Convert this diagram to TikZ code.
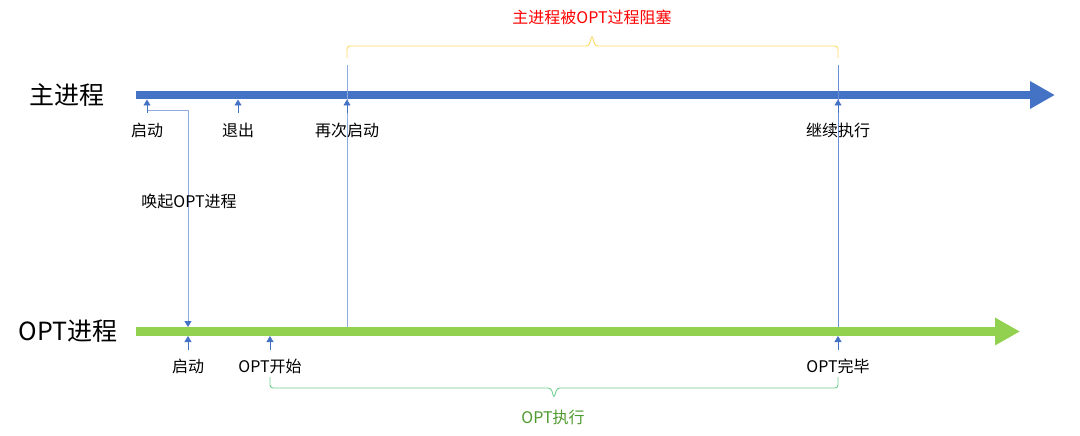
\documentclass[tikz,border=0pt]{standalone}
\usepackage{fontspec}
\setmainfont{Noto Sans CJK SC}
\usetikzlibrary{arrows.meta}
\definecolor{mblue}{HTML}{4472C4}
\definecolor{mgreen}{HTML}{92D050}
\definecolor{lblue}{HTML}{8FAADC}
\definecolor{vblue}{HTML}{6A8FD6}
\definecolor{bryellow}{HTML}{FFD966}
\definecolor{brgreen}{HTML}{6FCF8F}
\definecolor{txgreen}{HTML}{4E9A2E}
\tikzset{
  bigarr/.style={line width=8.5pt,-{Triangle[length=25pt,width=26pt]}},
  smallarr/.style={draw=mblue,line width=0.8pt,-{Triangle[length=6pt,width=7pt]}},
  thinline/.style={draw=lblue,line width=0.9pt},
  lbl/.style={font=\fontsize{16}{19}\selectfont,inner sep=0pt},
  biglbl/.style={font=\fontsize{25}{29}\selectfont,inner sep=0pt},
}
\begin{document}
\begin{tikzpicture}[x=1pt,y=-1pt]
\useasboundingbox (0,0) rectangle (1080,436);
% process lines
\coordinate (ms) at (136,95);
\coordinate (me) at (1055,95);
\coordinate (os) at (136,331.5);
\coordinate (oe) at (1020,331.5);
\draw[bigarr,mblue] (ms) -- (me);
\draw[bigarr,mgreen] (os) -- (oe);
\node[biglbl] (mainlbl) at (67,95) {主进程};
\node[biglbl] (optlbl) at (68,331) {OPT进程};
% points on main line
\coordinate (m1) at (147,99.5); \coordinate (m1t) at (147,113);
\coordinate (m2) at (238,99.5); \coordinate (m2t) at (238,113);
\coordinate (m3) at (347,99.5); \coordinate (m3t) at (347,113);
\coordinate (m4) at (838,99.5); \coordinate (m4t) at (838,113);
% points on OPT line
\coordinate (o1) at (188,336); \coordinate (o1t) at (188,350);
\coordinate (o2) at (270,336); \coordinate (o2t) at (270,350);
\coordinate (o3) at (838,336); \coordinate (o3t) at (838,350);
% vertical lines
\coordinate (v1top) at (347,65); \coordinate (v1bot) at (347,327);
\coordinate (v2top) at (838,65); \coordinate (v2bot) at (838,327);
\draw[thinline] (v1top) -- (v1bot);
\draw[draw=vblue,line width=0.8pt] (v2top) -- (v2bot);
% wake-up connector
\coordinate (w0) at (147,110);
\coordinate (wend) at (188,327);
\draw[thinline,-{Triangle[length=6pt,width=7pt,color=mblue]}] (w0) -| (wend);
% small arrows
\foreach \p in {m1,m2,m3,m4,o1,o2,o3}{\draw[smallarr] (\p t) -- (\p);}
% labels
\node[lbl] (l1) at (147,130) {启动};
\node[lbl] (l2) at (238,130) {退出};
\node[lbl] (l3) at (347,130) {再次启动};
\node[lbl] (l4) at (838,130) {继续执行};
\node[lbl] (l5) at (188,366) {启动};
\node[lbl] (l6) at (270,366) {OPT开始};
\node[lbl] (l7) at (838,366) {OPT完毕};
\node[lbl] (wake) at (189,201) {唤起OPT进程};
% braces
\draw[bryellow,line width=0.9pt,rounded corners=3pt]
  (347,58) |- (589,46) -- (592,35) -- (595,46) -| (838,58);
\node[lbl,text=red] (block) at (592,17) {主进程被OPT过程阻塞};
\draw[brgreen,line width=0.9pt,rounded corners=3pt]
  (270,377) |- (551,388) -- (554,398) -- (557,388) -| (838,377);
\node[lbl,text=txgreen] (exec) at (553,417) {OPT执行};
\end{tikzpicture}
\end{document}
